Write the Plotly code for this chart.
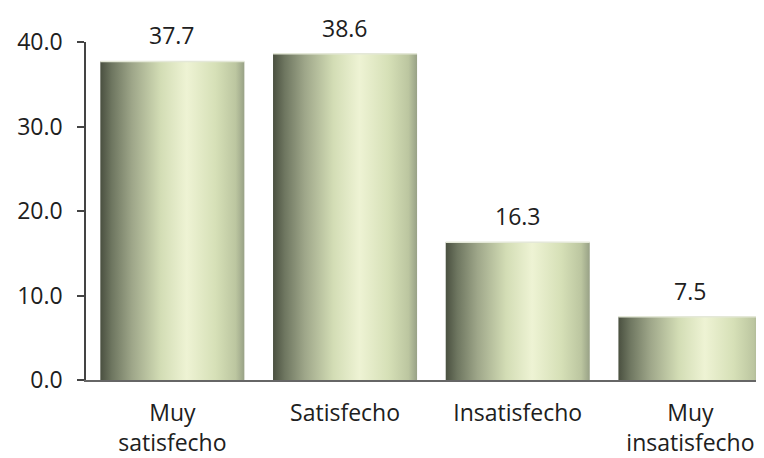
import plotly.graph_objects as go

# --- data ---
categories = ["Muy<br>satisfecho", "Satisfecho", "Insatisfecho", "Muy<br>insatisfecho"]
values = [37.7, 38.6, 16.3, 7.5]
y_ticks = [0, 10, 20, 30, 40]

BAR_W = 0.834
FONT = "'Open Sans', 'Noto Sans', sans-serif"
FSIZE = 23
TXT = "#202020"

# cylinder-like gradient, dark left -> light -> slightly darker right
grad = [
    [0.0, "#4a5040"],
    [0.08, "#6e7660"],
    [0.22, "#9ea689"],
    [0.42, "#d3ddb5"],
    [0.6, "#eef3d4"],
    [0.8, "#d6e0b7"],
    [0.94, "#bcc6a0"],
    [1.0, "#98a186"],
]

fig = go.Figure()

for i, v in enumerate(values):
    x0, x1 = i - BAR_W / 2, i + BAR_W / 2
    fig.add_trace(go.Scatter(
        x=[x0, x0, x1, x1, x0],
        y=[0, v, v, 0, 0],
        mode="lines",
        fill="toself",
        fillgradient=dict(type="horizontal", colorscale=grad),
        line=dict(width=0),
        hoverinfo="skip",
        showlegend=False,
    ))
    # thin light top edge
    fig.add_trace(go.Scatter(
        x=[x0, x1], y=[v, v], mode="lines",
        line=dict(color="#e4e8d8", width=1.5),
        hoverinfo="skip", showlegend=False,
    ))
    fig.add_annotation(
        x=i, y=v, text=f"{v:.1f}", showarrow=False,
        yanchor="bottom", yshift=8,
        font=dict(family=FONT, size=FSIZE, color=TXT),
    )

# page body has an 8px margin, so the figure is sized/offset to compensate
fig.update_layout(
    width=756, height=450,
    margin=dict(l=78, r=0, t=34, b=78),
    plot_bgcolor="white", paper_bgcolor="white",
    font=dict(family=FONT, size=FSIZE, color=TXT),
    showlegend=False,
    xaxis=dict(
        range=[-0.5, 3.426],
        tickvals=list(range(len(categories))),
        ticktext=categories,
        showgrid=False, zeroline=False,
        showline=True, linecolor="#666666", linewidth=1.5,
        ticks="", ticklen=0,
        ticklabelstandoff=12,
        fixedrange=True,
    ),
    yaxis=dict(
        range=[0, 40],
        tickvals=y_ticks,
        ticktext=[f"{t:.1f}" for t in y_ticks],
        showgrid=False, zeroline=False,
        showline=True, linecolor="#444444", linewidth=1.5,
        ticks="outside", ticklen=7, tickcolor="#444444", tickwidth=1.5,
        ticklabelstandoff=10,
        fixedrange=True,
    ),
)

fig.write_html("out.html")
